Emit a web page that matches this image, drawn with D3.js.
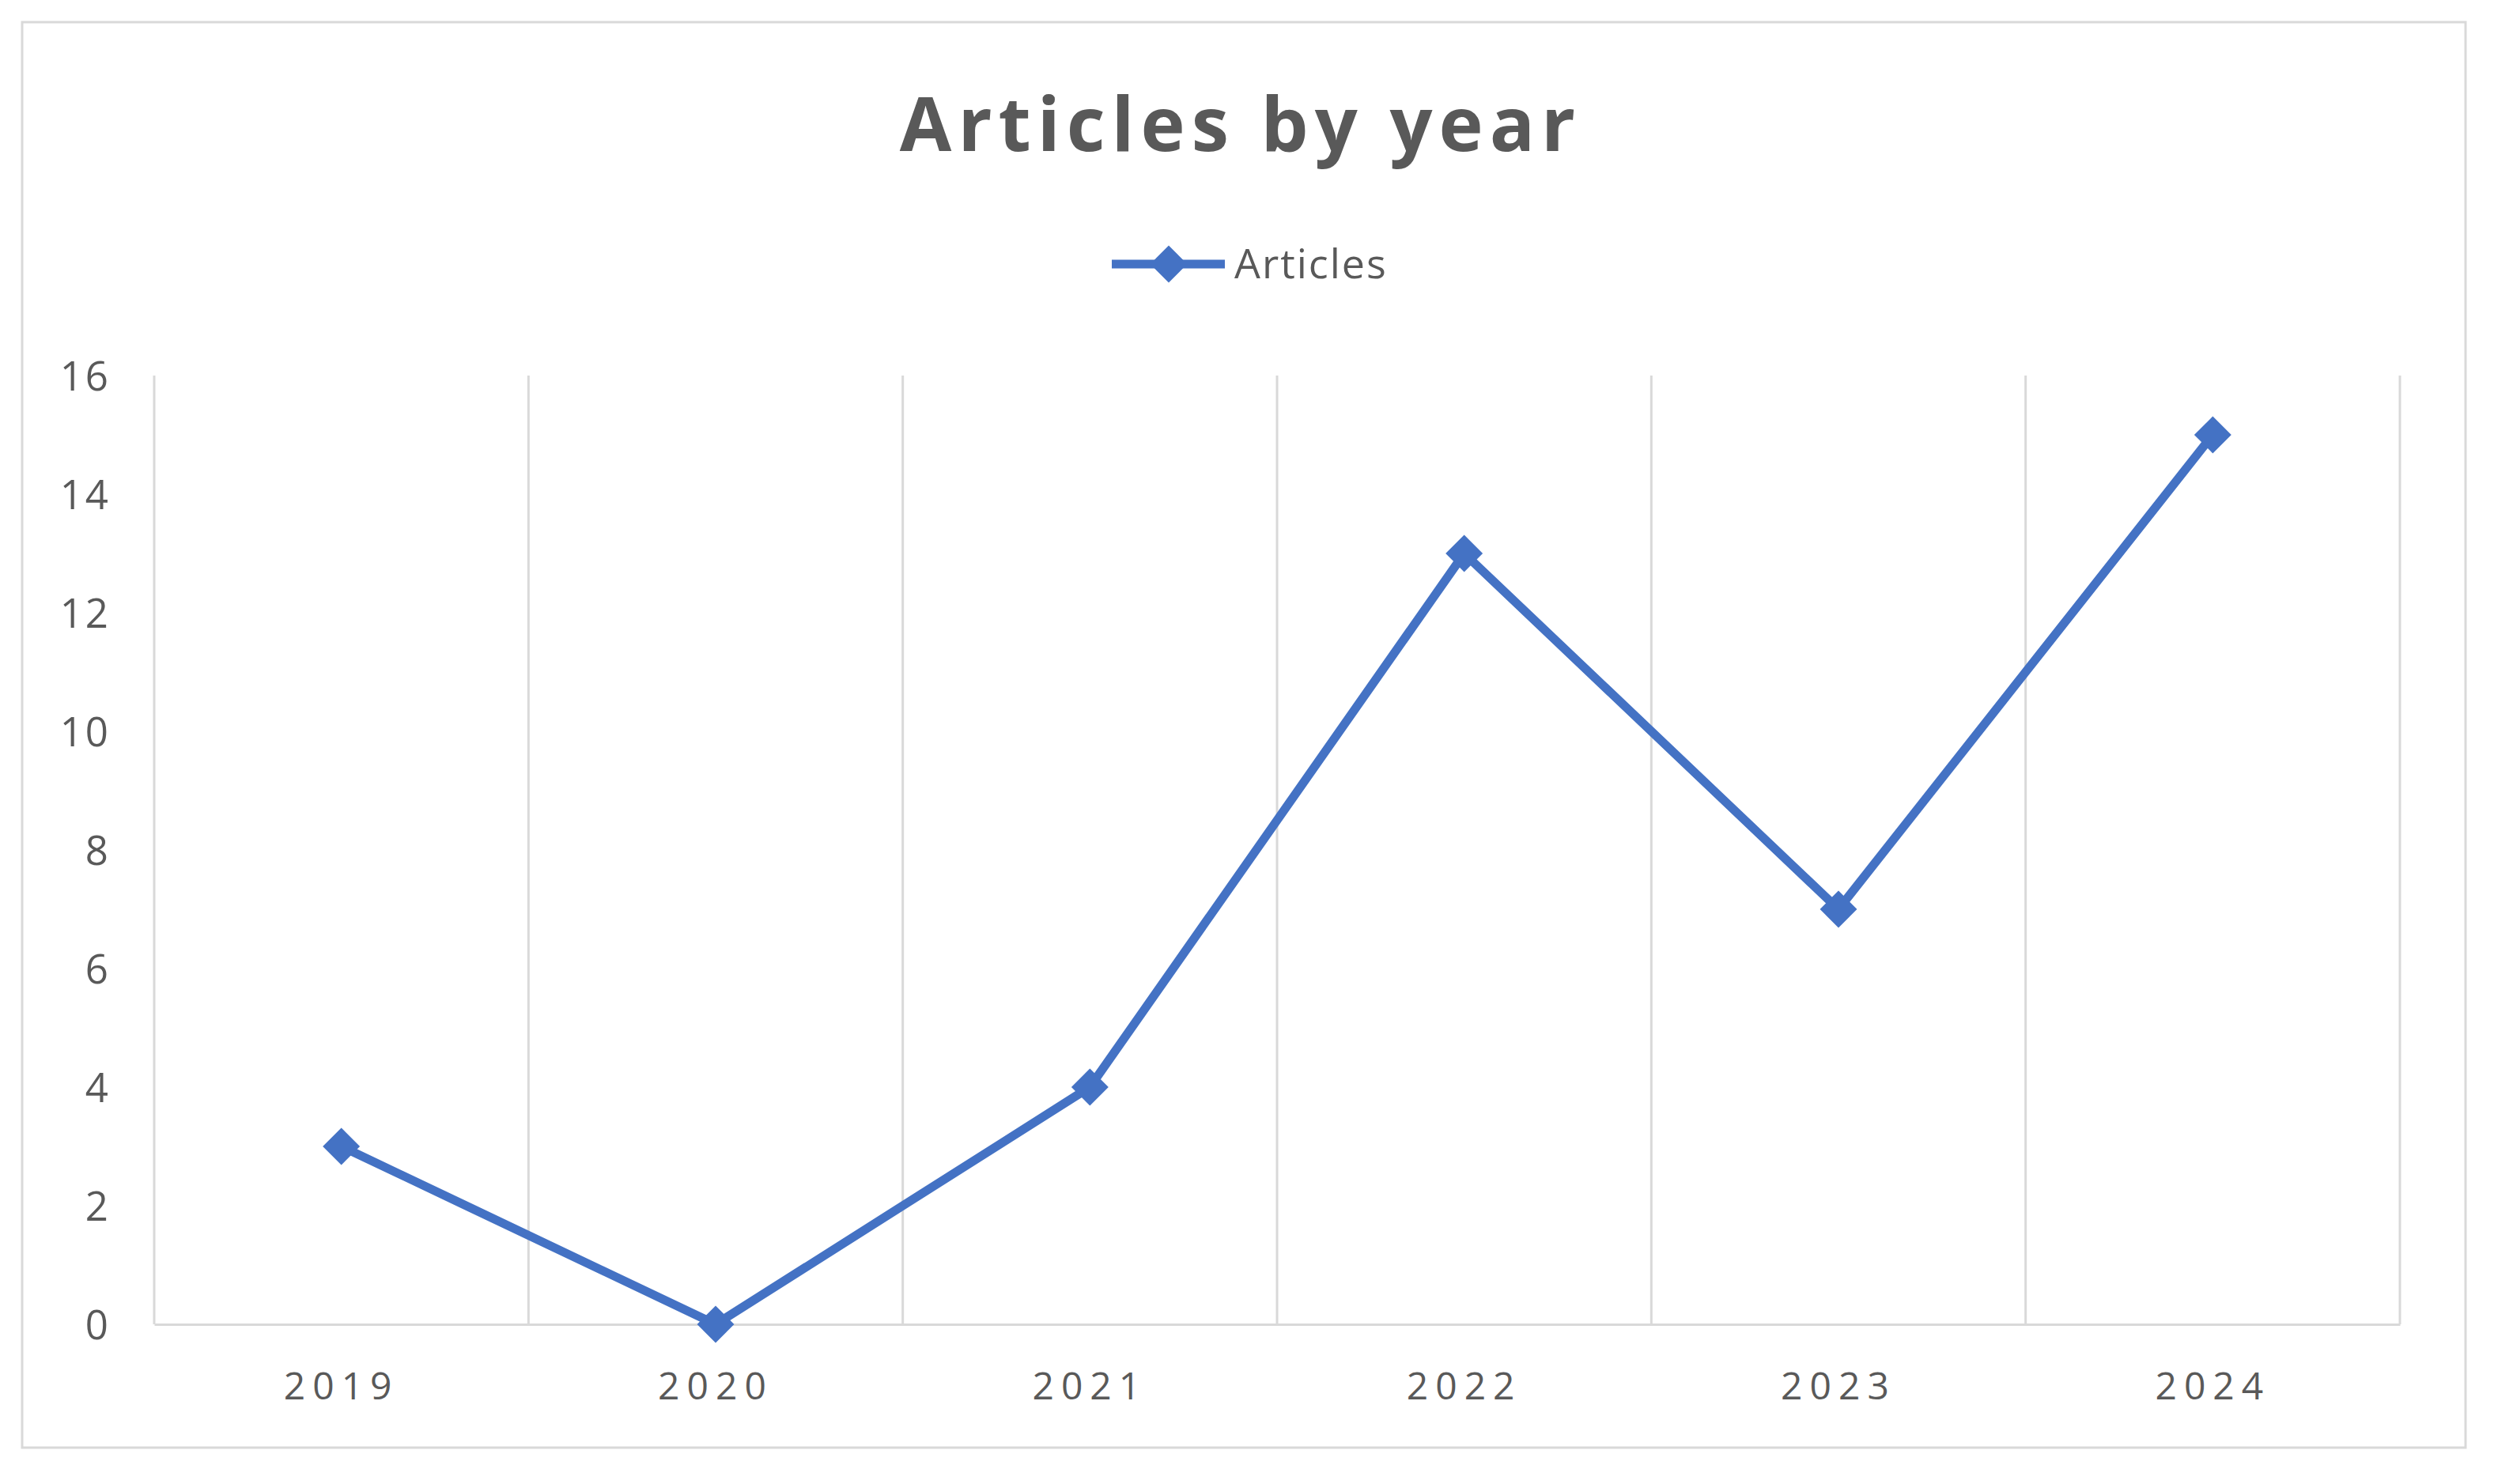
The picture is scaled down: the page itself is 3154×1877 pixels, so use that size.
<!DOCTYPE html>
<html>
<head>
<meta charset="utf-8">
<script src="https://cdn.jsdelivr.net/npm/d3@7"></script>
<style>
  html, body { margin: 0; padding: 0; background: #ffffff; }
  svg { display: block; }
</style>
</head>
<body>
<svg id="chart" width="3154" height="1877"></svg>
<script>
const categories = ["2019", "2020", "2021", "2022", "2023", "2024"];
const articles = [3, 0, 4, 13, 7, 15];
const yTicks = [0, 2, 4, 6, 8, 10, 12, 14, 16];
const seriesName = "Articles";
const titleText = "Articles by year";

const W = 3154, H = 1877;
const plot = { left: 195, right: 3035, top: 475, bottom: 1675 };
const blue = "#4472C4", grid = "#d9d9d9", textCol = "#595959";
const font = "'Open Sans', 'Noto Sans', sans-serif";

const svg = d3.select("#chart");
svg.append("rect").attr("width", W).attr("height", H).attr("fill", "#fff");
svg.append("rect").attr("x", 28).attr("y", 28).attr("width", 3090).attr("height", 1803)
  .attr("fill", "none").attr("stroke", grid).attr("stroke-width", 3);

const x = d3.scaleBand().domain(categories).range([plot.left, plot.right]).padding(0);
const y = d3.scaleLinear().domain([0, 16]).range([plot.bottom, plot.top]);

// vertical gridlines at category boundaries
const bounds = categories.map(c => x(c)).concat([x.range()[1]]);
svg.append("g").selectAll("line").data(bounds).join("line")
  .attr("x1", d => d).attr("x2", d => d)
  .attr("y1", y(16)).attr("y2", y(0))
  .attr("stroke", grid).attr("stroke-width", 3);

// x axis
const xAxis = svg.append("g").attr("transform", `translate(0,${y(0)})`)
  .call(d3.axisBottom(x).tickSize(0).tickPadding(0));
xAxis.select(".domain").attr("stroke", grid).attr("stroke-width", 3);
xAxis.selectAll("text").attr("y", 95).attr("dy", 0)
  .attr("font-family", font).attr("font-size", 48).attr("fill", textCol)
  .attr("letter-spacing", 9);

// y axis
const yAxis = svg.append("g").attr("transform", `translate(${plot.left},0)`)
  .call(d3.axisLeft(y).tickValues(yTicks).tickSize(0).tickPadding(55));
yAxis.select(".domain").remove();
yAxis.selectAll("text").attr("dy", "0.36em")
  .attr("font-family", font).attr("font-size", 51).attr("fill", textCol)
  .attr("letter-spacing", 3);

// line
const line = d3.line().x((d, i) => x(categories[i]) + x.bandwidth() / 2).y(d => y(d));
svg.append("path").datum(articles).attr("d", line)
  .attr("fill", "none").attr("stroke", blue).attr("stroke-width", 11)
  .attr("stroke-linejoin", "round");

const diamond = d3.symbol().type(d3.symbolSquare).size(1100);
svg.append("g").selectAll("path").data(articles).join("path")
  .attr("d", diamond)
  .attr("transform", (d, i) => `translate(${x(categories[i]) + x.bandwidth() / 2},${y(d)}) rotate(45)`)
  .attr("fill", blue);

// title
svg.append("text").attr("x", 1569).attr("y", 191).attr("text-anchor", "middle")
  .attr("font-family", font).attr("font-weight", 700).attr("font-size", 95)
  .attr("letter-spacing", 8).attr("fill", textCol).text(titleText);

// legend
const lg = svg.append("g");
lg.append("line").attr("x1", 1406).attr("x2", 1549).attr("y1", 334).attr("y2", 334)
  .attr("stroke", blue).attr("stroke-width", 11);
lg.append("path").attr("d", diamond).attr("transform", "translate(1478,334) rotate(45)").attr("fill", blue);
lg.append("text").attr("x", 1561).attr("y", 352)
  .attr("font-family", font).attr("font-size", 52).attr("fill", textCol)
  .attr("letter-spacing", 2).text(seriesName);
</script>
</body>
</html>
